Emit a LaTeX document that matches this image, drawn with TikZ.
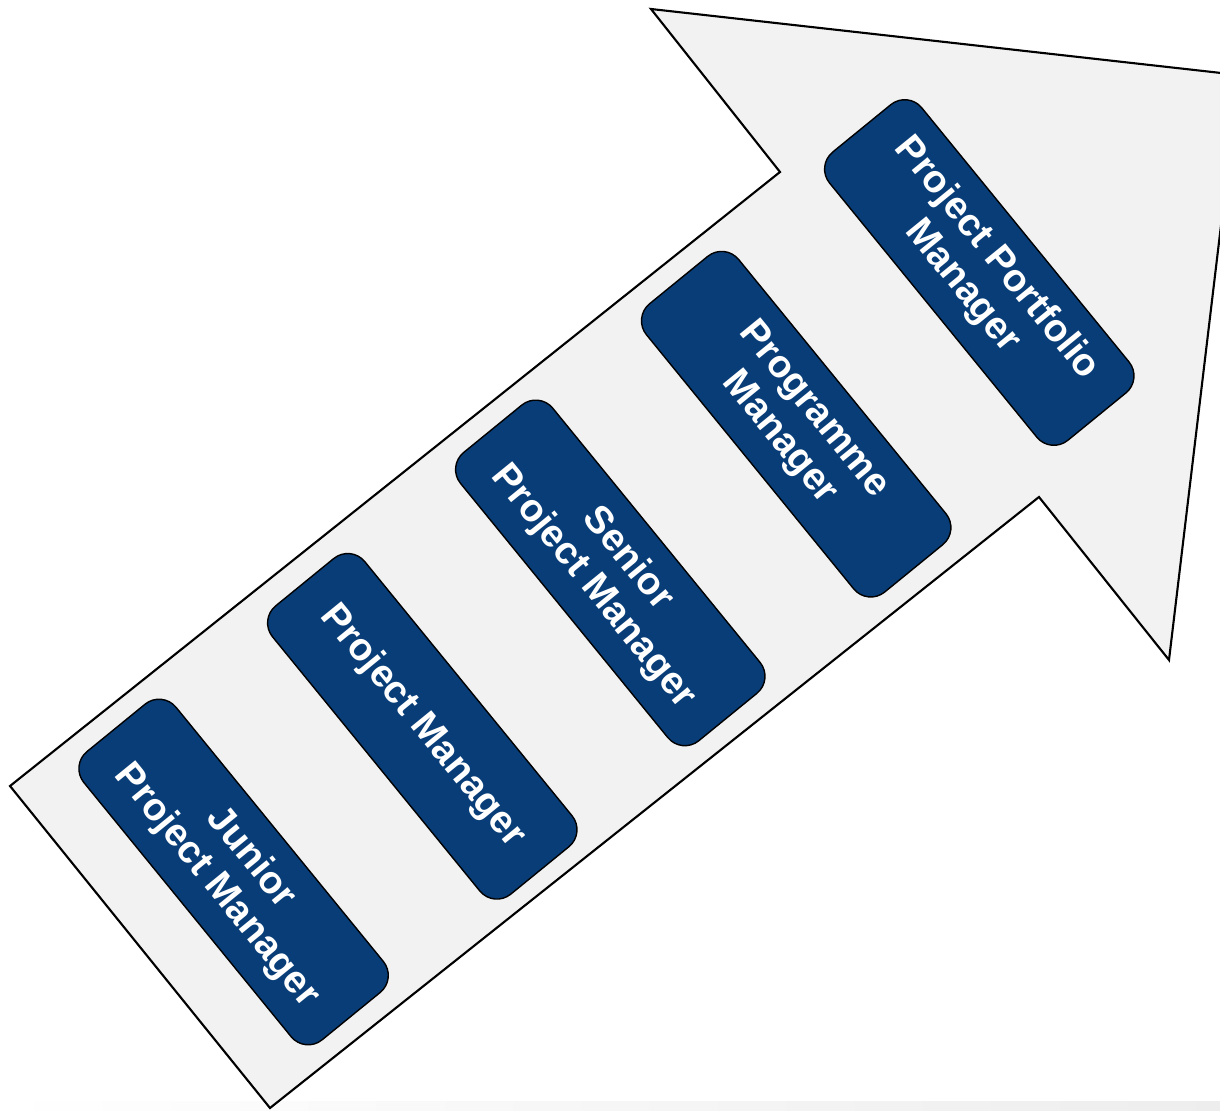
\documentclass[tikz,border=0pt]{standalone}
\usepackage{fontspec}
\setmainfont{Liberation Sans}
\definecolor{stepblue}{RGB}{9,61,119}
\definecolor{arrowgray}{RGB}{242,242,242}

\begin{document}
\begin{tikzpicture}
  \useasboundingbox (0,0) rectangle (12.2,11.1);
  \clip (0,0) rectangle (12.2,11.1);
  \shade[left color=white, right color=black!7] (0,0) rectangle (12.2,0.09);
  % big arrow
  \draw[semithick, fill=arrowgray, line join=miter]
    (0.10,3.24) -- (7.80,9.38) -- (6.51,11.01) -- (12.39,10.35)
    -- (11.69,4.50) -- (10.39,6.13) -- (2.70,0.02) -- cycle;
  \begin{scope}[every node/.style={draw=black, thin, fill=stepblue, text=white,
      rounded corners=0.22cm, minimum width=3.72cm, minimum height=1.19cm,
      inner sep=0pt, rotate=-50.8, align=center,
      font=\fontsize{11}{12.6}\selectfont\bfseries}]
    \node (1) at (2.336,2.380) {Junior\\Project Manager};
    \node (2) at (4.223,3.837) {Project Manager};
    \node (3) at (6.103,5.371) {Senior\\Project Manager};
    \node (4) at (7.962,6.858) {Programme\\Manager};
    \node (5) at (9.793,8.375) {Project Portfolio\\Manager};
  \end{scope}
\end{tikzpicture}
\end{document}
